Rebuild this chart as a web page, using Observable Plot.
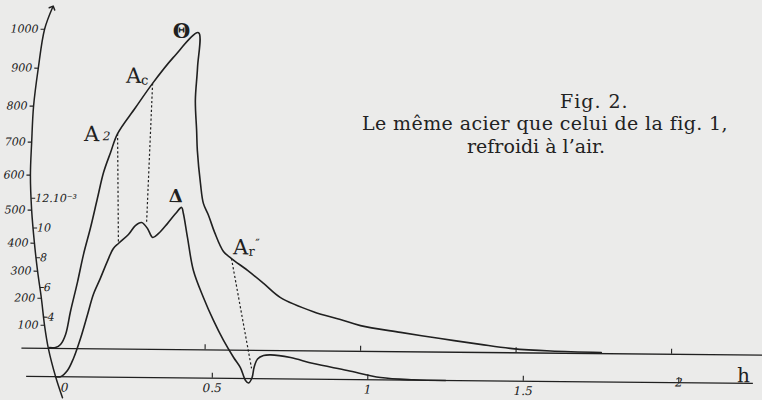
<!DOCTYPE html>
<html><head><meta charset="utf-8">
<script src="https://cdn.jsdelivr.net/npm/d3@7"></script>
<script src="https://cdn.jsdelivr.net/npm/@observablehq/plot@0.6"></script>
<style>
html,body{margin:0;padding:0;background:#ebebea;}
#wrap{position:relative;width:762px;height:400px;overflow:hidden;font-family:"DejaVu Serif",serif;color:#222;}
.cap{position:absolute;white-space:nowrap;font-size:19px;line-height:19px;}
</style></head>
<body><div id="wrap"><div id="chart"></div>
<div class="cap" style="left:560px;top:92.4px;letter-spacing:1px">Fig. 2.</div>
<div class="cap" style="left:362px;top:114.4px;letter-spacing:0.4px">Le même acier que celui de la fig. 1,</div>
<div class="cap" style="left:467px;top:136.9px">refroidi à l’air.</div>
</div>
<script>
// ---- data ----
// time axis (hours)
const timeTicks = [0.5, 1, 1.5, 2];
const timeTickLabels = ["0.5", "1", "1.5", "2"];
const timeOriginLabel = "0";
const timeUnit = "h";
// temperature axis (°C)
const tempTicks = [100, 200, 300, 400, 500, 600, 700, 800, 900, 1000];
const tempTickLabels = ["100", "200", "300", "400", "500", "600", "700", "800", "900", "1000"];
// dilatation axis (×10⁻³)
const dilTicks = [4, 6, 8, 10, 12];
const dilTickLabels = ["4", "6", "8", "10", "12.10⁻³"];
// temperature curve: [hours, °C]
const heating = [
  [-0.024, 3], [-0.005, 4], [0.011, 17], [0.027, 61], [0.042, 152], [0.064, 263],
  [0.082, 361], [0.104, 449], [0.125, 535], [0.144, 610], [0.166, 671], [0.188, 726],
  [0.245, 799], [0.299, 863], [0.365, 931], [0.445, 995], [0.443, 906], [0.437, 819],
  [0.442, 737], [0.445, 679], [0.456, 581], [0.466, 524], [0.483, 489], [0.503, 438],
  [0.532, 377], [0.558, 352], [0.610, 310], [0.662, 263], [0.717, 211], [0.823, 160],
  [0.910, 132], [0.975, 110], [1.104, 84], [1.232, 59], [1.361, 35], [1.464, 18],
  [1.587, 9], [1.75, 5]
];
// dilatation curve: [hours, ×10⁻³]
const dilatation = [
  [-0.004, 0], [0.012, 0], [0.034, 0.42], [0.053, 1.24], [0.075, 2.59], [0.097, 4.21],
  [0.115, 5.56], [0.137, 6.65], [0.159, 7.80], [0.178, 8.67], [0.194, 9.01], [0.226, 9.62],
  [0.248, 10.23], [0.268, 10.44], [0.287, 10.04], [0.304, 9.44], [0.323, 9.71], [0.351, 10.38],
  [0.377, 11.06], [0.396, 11.48], [0.402, 11.07], [0.416, 9.45], [0.436, 7.24], [0.469, 5.43],
  [0.502, 3.89], [0.535, 2.55], [0.568, 1.41], [0.590, 0.73], [0.607, -0.13], [0.617, -0.30],
  [0.628, 0.07], [0.634, 0.75], [0.645, 1.32], [0.664, 1.56], [0.687, 1.61], [0.751, 1.44],
  [0.825, 1.05], [0.934, 0.61], [1.041, 0.15], [1.147, 0.02], [1.25, 0]
];
// the curved ordinate drawn on the plate: [hours, °C]
const axisCurve = [
  [0.019, -214], [-0.004, -122], [-0.028, 0], [-0.041, 100], [-0.052, 200], [-0.065, 300],
  [-0.076, 400], [-0.086, 500], [-0.091, 600], [-0.088, 700], [-0.083, 800], [-0.069, 900],
  [-0.050, 1000], [-0.025, 1056]
];
// transformation points: name, on temperature curve [h, °C], on dilatation curve [h, ×10⁻³]
const transitions = [
  {name: "A2", th: 0.188, T: 726, dh: 0.194, d: 9.01},
  {name: "Ac", th: 0.299, T: 863, dh: 0.284, d: 10.44},
  {name: "Ar''", th: 0.558, T: 352, dh: 0.626, d: 0.68}
];
const thetaPoint = {h: 0.445, T: 995};
const deltaPoint = {h: 0.396, d: 11.48};
const baselineSpanT = [-0.113, 2.3];
const baselineSpanD = [-0.097, 2.24];
const tickShiftT = -0.024;

// ---- scales ----
const tempDomain = [0, 100, 200, 300, 400, 500, 600, 700, 800, 900, 1000];
const tempRange = [351, 328, 301, 274, 246, 213, 178, 145, 109, 71, 32];
const xRange = [58, 680];
const yT = d3.scaleLinear(tempDomain, tempRange);
const dilPx = d3.scaleLinear([0, 12], [379.3, 201.1]);
const dil = d => yT.invert(dilPx(d));
const pxH = (xRange[1] - xRange[0]) / 2;
const axisSorted = axisCurve.slice().sort((a, b) => a[1] - b[1]);
const axisH = d3.scaleLinear(axisSorted.map(p => p[1]), axisSorted.map(p => p[0]));
const upT = (T, px) => yT.invert(yT(T) - px);

const ink = "#202020";
const serif = "DejaVu Serif";
const tLow = dil(0);
const lastTick = timeTicks.length - 1;
const tickIdx = timeTicks.map((d, i) => i);

const chart = Plot.plot({
  width: 762, height: 400,
  style: {background: "none", overflow: "visible"},
  x: {type: "linear", domain: [0, 2], range: xRange, axis: null},
  y: {type: "linear", domain: tempDomain, range: tempRange, axis: null},
  marks: [
    // baselines
    Plot.ruleY([0], {x1: baselineSpanT[0], x2: baselineSpanT[1], stroke: ink, strokeWidth: 1.3}),
    Plot.ruleY([tLow], {x1: baselineSpanD[0], x2: baselineSpanD[1], stroke: ink, strokeWidth: 1.3}),
    // baseline ticks
    Plot.ruleX(timeTicks, {x: d => d, y1: tLow, y2: upT(tLow, 5), stroke: ink, strokeWidth: 1.1}),
    Plot.ruleX(timeTicks, {x: d => d + tickShiftT, y1: 0, y2: upT(0, 5), stroke: ink, strokeWidth: 1.1}),
    Plot.text(tickIdx.filter(i => i !== lastTick), {x: i => timeTicks[i], y: tLow, text: i => timeTickLabels[i], dy: 10,
      fontFamily: serif, fontStyle: "italic", fontSize: 12, fill: ink}),
    Plot.text([lastTick], {x: i => timeTicks[i], y: tLow, text: i => timeTickLabels[i], dy: 0,
      fontFamily: serif, fontStyle: "italic", fontSize: 12, fill: ink}),
    Plot.text([timeOriginLabel], {x: 0, y: tLow, text: d => d, dx: 8, dy: 11,
      fontFamily: serif, fontStyle: "italic", fontSize: 12, fill: ink}),
    Plot.text([timeUnit], {x: 2.208, y: tLow, text: d => d, lineAnchor: "bottom", dy: -1,
      fontFamily: serif, fontSize: 20, fill: ink}),
    // curved ordinate
    Plot.line(axisCurve, {x: d => d[0], y: d => d[1], curve: "catmull-rom", stroke: ink, strokeWidth: 1.5, markerEnd: "arrow"}),
    Plot.link(tempTicks, {x1: T => axisH(T) - 4 / pxH, x2: T => axisH(T), y1: T => T, y2: T => T, stroke: ink, strokeWidth: 1.1}),
    Plot.text(tempTicks, {x: T => axisH(T), y: T => T, text: (T, i) => tempTickLabels[i], textAnchor: "end", dx: -6,
      fontFamily: serif, fontStyle: "italic", fontSize: 11, fill: ink}),
    Plot.link(dilTicks, {x1: d => axisH(dil(d)), x2: d => axisH(dil(d)) + 4 / pxH, y1: d => dil(d), y2: d => dil(d), stroke: ink, strokeWidth: 1.1}),
    Plot.text(dilTicks, {x: d => axisH(dil(d)), y: d => dil(d), text: (d, i) => dilTickLabels[i], textAnchor: "start", dx: 4,
      fontFamily: serif, fontStyle: "italic", fontSize: 11, fill: ink}),
    // curves
    Plot.line(heating, {x: d => d[0], y: d => d[1], curve: "catmull-rom", stroke: ink, strokeWidth: 1.6}),
    Plot.line(dilatation, {x: d => d[0], y: d => dil(d[1]), curve: "catmull-rom", stroke: ink, strokeWidth: 1.6}),
    // dotted correspondences
    Plot.link(transitions, {x1: "th", y1: "T", x2: "dh", y2: d => dil(d.d), stroke: ink, strokeWidth: 1.2, strokeDasharray: "2.2,2.2"}),
    // labels
    Plot.text([transitions[0]], {x: "th", y: "T", text: () => "A", dx: -26, dy: 1, fontFamily: serif, fontSize: 21, fill: ink}),
    Plot.text([transitions[0]], {x: "th", y: "T", text: () => "2", dx: -11, dy: 3, fontFamily: serif, fontStyle: "italic", fontSize: 12, fill: ink}),
    Plot.text([transitions[1]], {x: "th", y: "T", text: () => "A", dx: -19, dy: -7, fontFamily: serif, fontSize: 21, fill: ink}),
    Plot.text([transitions[1]], {x: "th", y: "T", text: () => "c", dx: -8, dy: -3, fontFamily: serif, fontSize: 13, fill: ink}),
    Plot.text([transitions[2]], {x: "th", y: "T", text: () => "A", dx: 9, dy: -11, fontFamily: serif, fontSize: 21, fill: ink}),
    Plot.text([transitions[2]], {x: "th", y: "T", text: () => "r", dx: 20, dy: -7, fontFamily: serif, fontSize: 13, fill: ink}),
    Plot.text([transitions[2]], {x: "th", y: "T", text: () => "″", dx: 26, dy: -15, fontFamily: serif, fontSize: 12, fill: ink}),
    Plot.text([thetaPoint], {x: "h", y: "T", text: () => "Θ", dx: -17, dy: -1, fontFamily: serif, fontWeight: "bold", fontSize: 20, fill: ink}),
    Plot.text([deltaPoint], {x: "h", y: d => dil(d.d), text: () => "Δ", dx: -6, dy: -11, fontFamily: serif, fontWeight: "bold", fontSize: 18, fill: ink})
  ]
});
chart.style.transform = "rotate(0.55deg)";
chart.style.transformOrigin = "381px 200px";
document.getElementById("chart").appendChild(chart);
</script></body></html>
